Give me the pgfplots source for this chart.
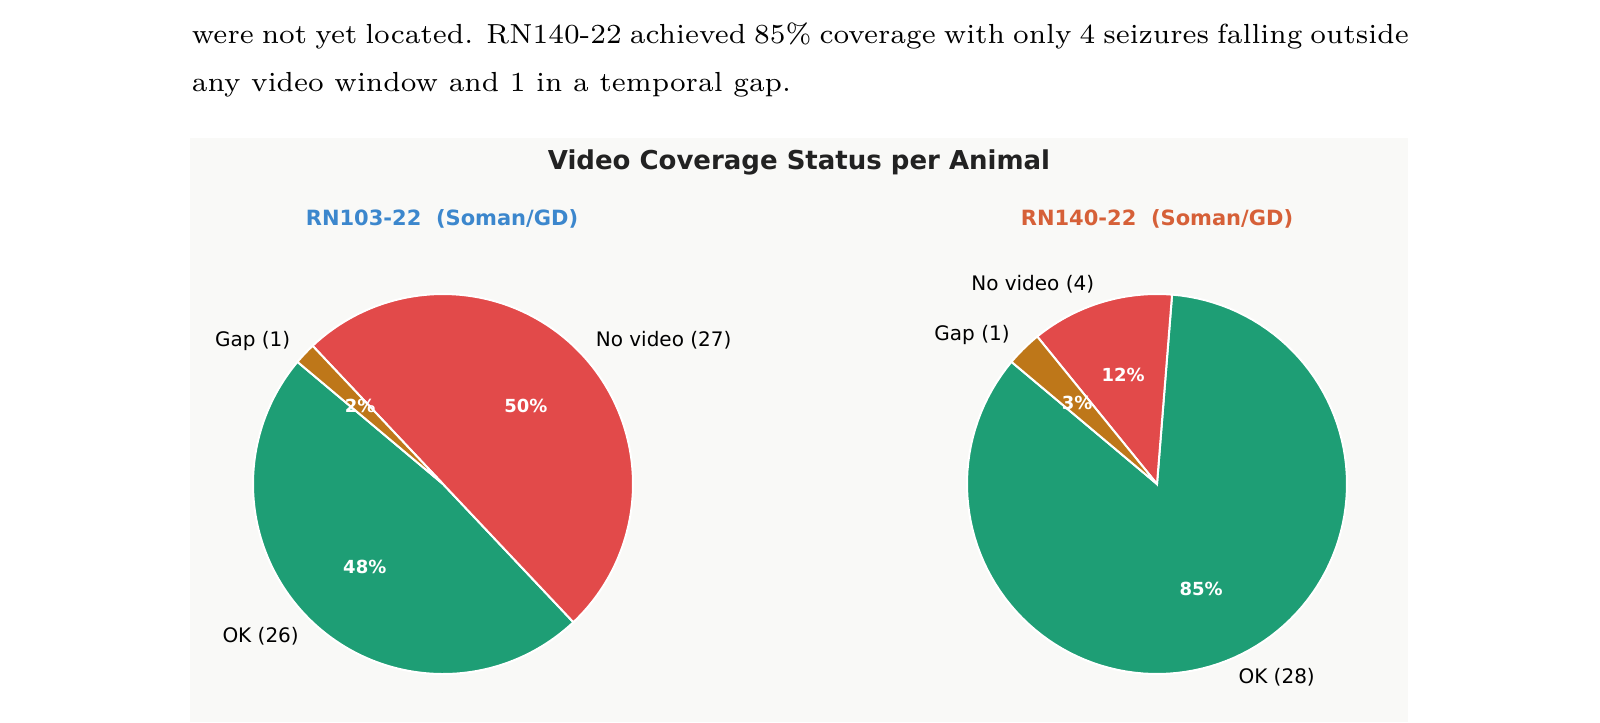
\documentclass[border=0pt]{standalone}
\usepackage{pgfplots}
\pgfplotsset{compat=1.18}
\usepackage{fontspec}
\newfontfamily\djv{DejaVu Sans}
\definecolor{cok}{RGB}{30,158,117}
\definecolor{cnv}{RGB}{226,74,74}
\definecolor{cgap}{RGB}{190,119,25}
\definecolor{bgc}{RGB}{249,249,247}
\definecolor{ttl}{RGB}{34,34,34}
\definecolor{subA}{RGB}{60,135,205}
\definecolor{subB}{RGB}{214,96,56}

% counts: OK, No video, Gap
\def\Aok{26}\def\Anv{27}\def\Agap{1}
\def\Bok{28}\def\Bnv{4}\def\Bgap{1}

\pgfplotsset{pieax/.style={width=95pt,height=95pt,scale only axis,hide axis,
  xmin=-1,xmax=1,ymin=-1,ymax=1,clip=false,anchor=center},
  wedge/.style={draw=white,line width=0.5pt,samples=120,variable=\t}}
\tikzset{lab/.style={font=\djv\fontsize{5}{6}\selectfont,text=black,inner sep=0pt},
  pct/.style={font=\djv\bfseries\fontsize{4.5}{5}\selectfont,text=white,inner sep=0pt},
  body/.style={anchor=base west,inner sep=0pt,font=\fontsize{6.9}{12}\selectfont}}

\begin{document}
\begin{tikzpicture}[x=0.25pt,y=-0.25pt]
\useasboundingbox (0,0) rectangle (1600,722);
\fill[white] (0,0) rectangle (1600,722);
\fill[bgc] (190,138) rectangle (1408,722);
\node[body] at (191,43)
  {\makebox[304.25pt][s]{were not yet located. RN140-22 achieved 85\% coverage with only 4 seizures falling outside}};
\node[body] at (191,91) {any video window and 1 in a temporal gap.};
\node[font=\djv\bfseries\fontsize{6.5}{7.8}\selectfont,text=ttl] at (799,162) {Video Coverage Status per Animal};
\node[font=\djv\bfseries\fontsize{5.25}{6.3}\selectfont,text=subA] at (442,219) {RN103-22\ \ (Soman/GD)};
\node[font=\djv\bfseries\fontsize{5.25}{6.3}\selectfont,text=subB] at (1157,219) {RN140-22\ \ (Soman/GD)};

% ---- pie A ----
\pgfmathsetmacro\At{\Aok+\Anv+\Agap}
\pgfmathsetmacro\Aa{140}
\pgfmathsetmacro\Ab{\Aa+\Aok/\At*360}
\pgfmathsetmacro\Ac{\Ab+\Anv/\At*360}
\pgfmathsetmacro\Ad{\Ac+\Agap/\At*360}
\pgfmathsetmacro\Amok{(\Aa+\Ab)/2}
\pgfmathsetmacro\Amnv{(\Ab+\Ac)/2}
\pgfmathsetmacro\Amgap{(\Ac+\Ad)/2}
\begin{axis}[pieax,at={(110.75pt,-121pt)}]
\addplot[wedge,fill=cok,domain=\Aa:\Ab] ({cos(\t)},{sin(\t)}) -- (axis cs:0,0) -- cycle;
\addplot[wedge,fill=cnv,domain=\Ab:\Ac] ({cos(\t)},{sin(\t)}) -- (axis cs:0,0) -- cycle;
\addplot[wedge,fill=cgap,domain=\Ac:\Ad] ({cos(\t)},{sin(\t)}) -- (axis cs:0,0) -- cycle;
\node[lab,anchor=east] at (axis cs:{1.1*cos(\Amok)},{1.1*sin(\Amok)}) {OK (26)};
\node[lab,anchor=west] at (axis cs:{1.1*cos(\Amnv)},{1.1*sin(\Amnv)}) {No video (27)};
\node[lab,anchor=east] at (axis cs:{1.1*cos(\Amgap)},{1.1*sin(\Amgap)}) {Gap (1)};
\node[pct] at (axis cs:{0.6*cos(\Amok)},{0.6*sin(\Amok)}) {48\%};
\node[pct] at (axis cs:{0.6*cos(\Amnv)},{0.6*sin(\Amnv)}) {50\%};
\node[pct] at (axis cs:{0.6*cos(\Amgap)},{0.6*sin(\Amgap)}) {2\%};
\end{axis}

% ---- pie B ----
\pgfmathsetmacro\Bt{\Bok+\Bnv+\Bgap}
\pgfmathsetmacro\Ba{140}
\pgfmathsetmacro\Bb{\Ba+\Bok/\Bt*360}
\pgfmathsetmacro\Bc{\Bb+\Bnv/\Bt*360}
\pgfmathsetmacro\Bd{\Bc+\Bgap/\Bt*360}
\pgfmathsetmacro\Bmok{(\Ba+\Bb)/2}
\pgfmathsetmacro\Bmnv{(\Bb+\Bc)/2}
\pgfmathsetmacro\Bmgap{(\Bc+\Bd)/2}
\begin{axis}[pieax,at={(289.25pt,-121pt)}]
\addplot[wedge,fill=cok,domain=\Ba:\Bb] ({cos(\t)},{sin(\t)}) -- (axis cs:0,0) -- cycle;
\addplot[wedge,fill=cnv,domain=\Bb:\Bc] ({cos(\t)},{sin(\t)}) -- (axis cs:0,0) -- cycle;
\addplot[wedge,fill=cgap,domain=\Bc:\Bd] ({cos(\t)},{sin(\t)}) -- (axis cs:0,0) -- cycle;
\node[lab,anchor=west] at (axis cs:{1.1*cos(\Bmok)},{1.1*sin(\Bmok)}) {OK (28)};
\node[lab,anchor=east] at (axis cs:{1.1*cos(\Bmnv)},{1.1*sin(\Bmnv)}) {No video (4)};
\node[lab,anchor=east] at (axis cs:{1.1*cos(\Bmgap)},{1.1*sin(\Bmgap)}) {Gap (1)};
\node[pct] at (axis cs:{0.6*cos(\Bmok)},{0.6*sin(\Bmok)}) {85\%};
\node[pct] at (axis cs:{0.6*cos(\Bmnv)},{0.6*sin(\Bmnv)}) {12\%};
\node[pct] at (axis cs:{0.6*cos(\Bmgap)},{0.6*sin(\Bmgap)}) {3\%};
\end{axis}
\end{tikzpicture}
\end{document}
